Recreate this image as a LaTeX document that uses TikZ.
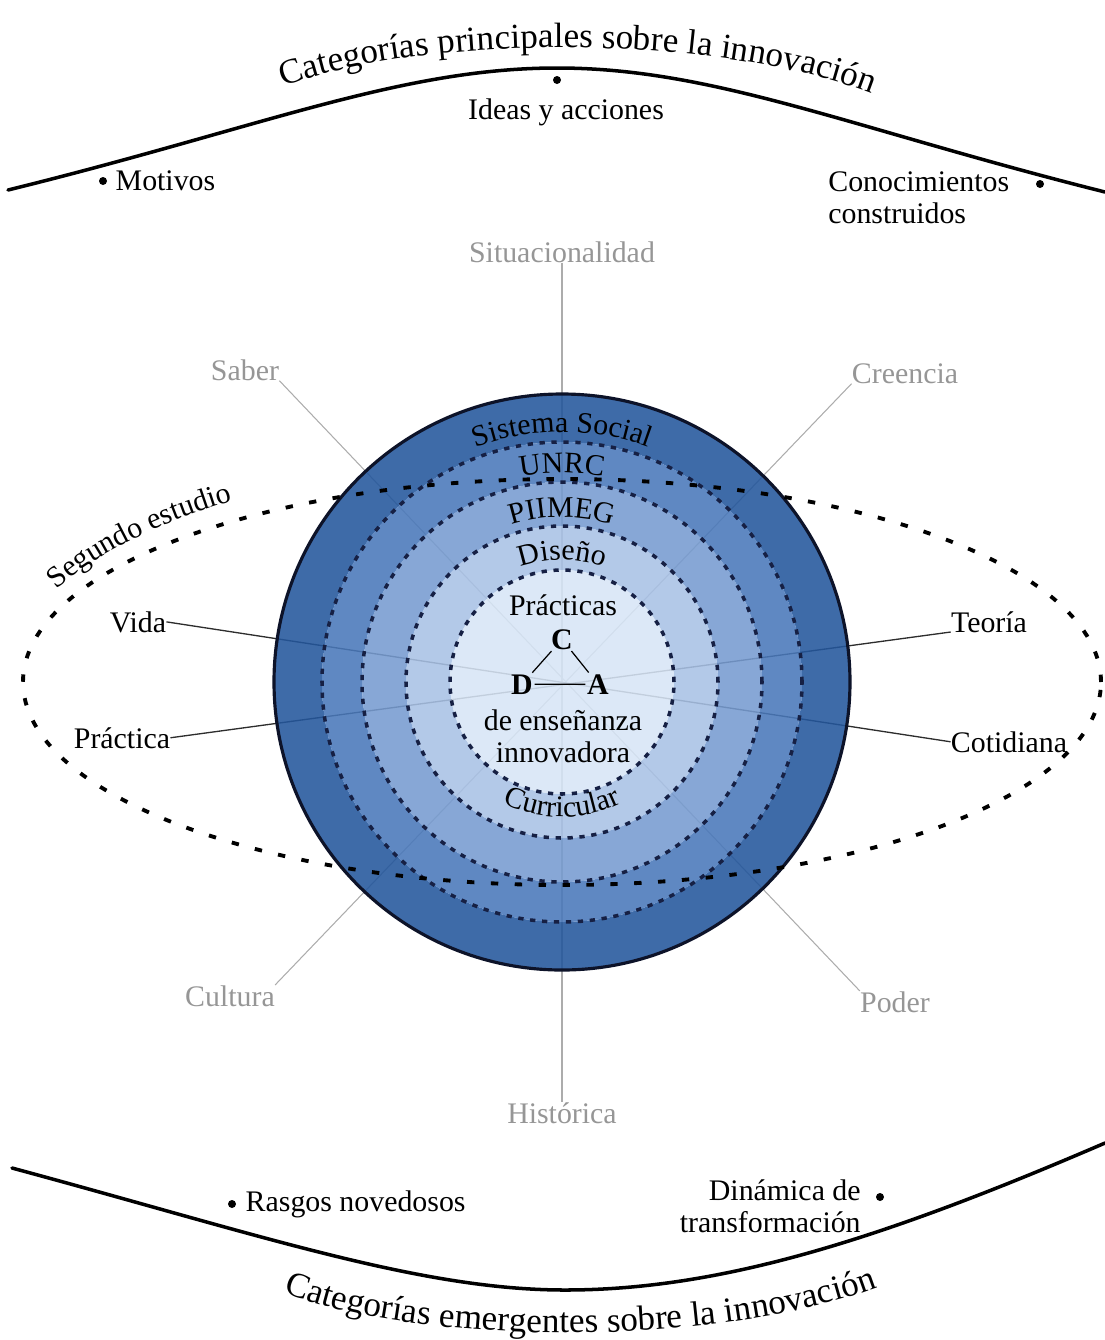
\documentclass[tikz,border=0pt]{standalone}
\usepackage{fontspec}
\setmainfont{Liberation Serif}
\usepackage{tikz}
\usetikzlibrary{positioning,decorations.text}
\definecolor{ringOuter}{RGB}{35,86,156}
\definecolor{ringUnrc}{RGB}{73,120,186}
\definecolor{ringPiimeg}{RGB}{118,155,208}
\definecolor{ringDiseno}{RGB}{168,193,229}
\definecolor{ringCore}{RGB}{215,229,246}
\definecolor{ringNavy}{RGB}{22,32,68}
\definecolor{spokeGrey}{RGB}{172,172,172}
\definecolor{labelGrey}{RGB}{150,150,150}
\definecolor{axisDark}{RGB}{45,45,45}
\newcommand{\lblfont}{\fontsize{17}{18.5}\selectfont}
\newcommand{\ttlfont}{\fontsize{20}{24}\selectfont}
\tikzset{
  lbl/.style={font=\lblfont,inner sep=0pt},
  glbl/.style={lbl,text=labelGrey,anchor=base},
  dlbl/.style={lbl,anchor=base},
  letter/.style={font=\lblfont\bfseries,inner sep=0.8pt,anchor=base},
  bdot/.style={circle,fill=black,inner sep=0pt,minimum size=0.16cm},
  spoke/.style={draw=spokeGrey,line width=0.6pt},
  axis/.style={draw=axisDark,line width=0.75pt},
  bigarc/.style={line width=2pt,line cap=round},
  ringline/.style={draw=ringNavy,line width=2pt,dash pattern=on 3pt off 3.8pt},
  study/.style={line width=2.2pt,dash pattern=on 4.2pt off 9.4pt},
  ringfill/.style={fill opacity=0.88,even odd rule},
  arctext/.style={decorate,decoration={text along path,text align=center,text={|\lblfont|#1}}},
  ttltext/.style={decorate,decoration={text along path,text align=center,text={|\ttlfont|#1}}},
}

\begin{document}
\begin{tikzpicture}[x=0.02cm,y=0.02cm]
  \useasboundingbox (0,0) rectangle (1105,-1340);
  \coordinate (cen) at (562,-682);

  % categorias principales / emergentes
  \draw[bigarc] (8,-190) .. controls (260,-128) and (400,-68) .. (557,-68)
    .. controls (714,-68) and (850,-128) .. (1105,-192);
  \draw[bigarc] (12,-1168) .. controls (260,-1235) and (420,-1290) .. (565,-1290)
    .. controls (720,-1290) and (880,-1240) .. (1105,-1143);
  \path[ttltext={Categorías principales sobre la innovación}]
    (280,-88) .. controls (420,-33) and (720,-33) .. (875,-95);
  \path[ttltext={Categorías emergentes sobre la innovación}]
    (283,-1292) .. controls (420,-1347) and (720,-1347) .. (878,-1287);

  \node[bdot] (dideas) at (557,-80) {};
  \node[lbl,below=0.28cm of dideas,xshift=0.18cm] (ideas) {Ideas y acciones};
  \node[bdot] (dmot) at (103,-181) {};
  \node[lbl,right=0.16cm of dmot] (motivos) {Motivos};
  \node[bdot] (dcon) at (1040,-184) {};
  \node[lbl,align=left,anchor=north west] (conoc) at (828,-171) {Conocimientos\\construidos};
  \node[bdot] (dras) at (232,-1204) {};
  \node[lbl,right=0.18cm of dras] (rasgos) {Rasgos novedosos};
  \node[bdot] (ddin) at (880,-1197) {};
  \node[lbl,align=right,anchor=north east] (dinamica) at (861,-1179) {Dinámica de\\transformación};

  % dimensiones
  \node[glbl] (situ) at (562,-262) {Situacionalidad};
  \node[glbl] (saber) at (245,-380) {Saber};
  \node[glbl] (creencia) at (905,-383) {Creencia};
  \node[glbl] (cultura) at (230,-1006) {Cultura};
  \node[glbl] (poder) at (895,-1012) {Poder};
  \node[glbl] (historica) at (562,-1123) {Histórica};
  \node[dlbl] (vida) at (138,-632) {Vida};
  \node[dlbl] (practica) at (122,-748) {Práctica};
  \node[dlbl] (teoria) at (989,-632) {Teoría};
  \node[dlbl] (cotidiana) at (1009,-752) {Cotidiana};

  \draw[spoke] (situ.south) -- (historica.north);
  \draw[spoke] (saber.south east) -- (poder.north west);
  \draw[spoke] (creencia.south west) -- (cultura.north east);
  \draw[axis] (vida.east) -- (cotidiana.west);
  \draw[axis] (practica.east) -- (teoria.base west);

  % anillos
  \foreach \ro/\ri/\col in {288/240/ringOuter,240/200/ringUnrc,200/156/ringPiimeg,156/112/ringDiseno}
    \fill[\col,ringfill] (cen) circle[radius=\ro] (cen) circle[radius=\ri];
  \fill[ringCore,fill opacity=0.88] (cen) circle[radius=112];
  \foreach \r in {240,200,156,112}
    \draw[ringline] (cen) circle[radius=\r];
  \draw[ringNavy!60!black,line width=1.8pt] (cen) circle[radius=288];

  \draw[study] (cen) ellipse[x radius=539,y radius=203];
  \path[arctext={Segundo estudio}]
    ([shift={(163:555 and 225)}]cen) arc[start angle=163,end angle=122,x radius=555,y radius=225];

  \path[arctext={Sistema Social}] ([shift={(135:250)}]cen) arc[start angle=135,end angle=45,radius=250];
  \path[arctext={UNRC}] ([shift={(135:209)}]cen) arc[start angle=135,end angle=45,radius=209];
  \path[arctext={PIIMEG}] ([shift={(135:165)}]cen) arc[start angle=135,end angle=45,radius=165];
  \path[arctext={Diseño}] ([shift={(135:122)}]cen) arc[start angle=135,end angle=45,radius=122];
  \path[arctext={Curricular}] ([shift={(220:135)}]cen) arc[start angle=220,end angle=320,radius=135];

  \node[dlbl] (prac) at (563,-615) {Prácticas};
  \node[letter] (cn) at (562,-649) {C};
  \node[letter] (dn) at (522,-694) {D};
  \node[letter] (an) at (598,-694) {A};
  \draw[line width=0.7pt] (cn) -- (dn);
  \draw[line width=0.7pt] (cn) -- (an);
  \draw[line width=0.7pt] (dn) -- (an);
  \node[lbl,align=center,anchor=north] (ense) at (563,-709) {de enseñanza\\innovadora};
\end{tikzpicture}
\end{document}
